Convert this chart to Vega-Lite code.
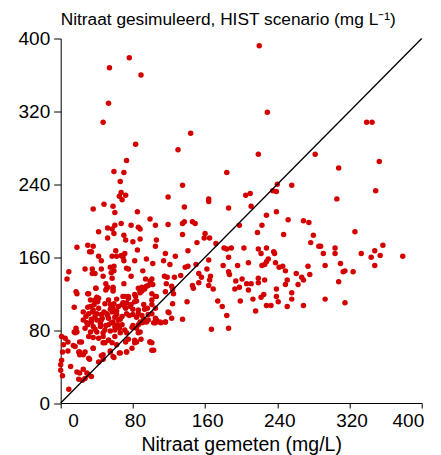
{
  "$schema": "https://vega.github.io/schema/vega-lite/v6.json",
  "width": 361,
  "height": 364.5,
  "autosize": {"type": "none"},
  "padding": {"left": 60.7, "top": 38.5, "right": 19.3, "bottom": 52},
  "background": "white",
  "config": {
    "view": {"stroke": null},
    "font": "Liberation Sans",
    "axis": {"grid": false, "domainColor": "black", "tickColor": "black", "labelColor": "black", "titleColor": "black", "labelFont": "Liberation Sans", "titleFont": "Liberation Sans", "domainWidth": 1, "tickWidth": 1}
  },
  "title": {"text": "Nitraat gesimuleerd, HIST scenario (mg L⁻¹)", "anchor": "start", "frame": "group", "fontSize": 17.3, "fontWeight": "normal", "font": "Liberation Sans", "color": "black", "offset": 1},
  "datasets": {
    "pts": [
      {"x":76,"y":379},{"x":54,"y":368},{"x":89,"y":360},{"x":53,"y":329},{"x":47,"y":308},{"x":144,"y":296},{"x":83,"y":284},{"x":130,"y":278},{"x":73,"y":266},{"x":59,"y":254},{"x":70,"y":253},{"x":184,"y":253},
      {"x":220,"y":392},{"x":229,"y":319},{"x":219,"y":273},{"x":282,"y":273},{"x":339,"y":308},{"x":345,"y":308},{"x":308,"y":258},{"x":353,"y":265},
      {"x":66,"y":243},{"x":135,"y":239},{"x":67,"y":231},{"x":72,"y":228},{"x":65,"y":227},{"x":68,"y":223},{"x":119,"y":226},{"x":164,"y":224},{"x":164,"y":221},{"x":48,"y":218},{"x":58,"y":216},{"x":36,"y":213},{"x":137,"y":215},{"x":186,"y":214},{"x":60,"y":209},{"x":85,"y":210},{"x":99,"y":202},{"x":42,"y":188},{"x":52,"y":192},{"x":57,"y":191},{"x":60,"y":195},{"x":59,"y":186},{"x":67,"y":197},{"x":78,"y":195},{"x":86,"y":193},{"x":88,"y":191},{"x":105,"y":195},{"x":119,"y":196},{"x":135,"y":197},{"x":137,"y":199},{"x":146,"y":199},{"x":149,"y":197},{"x":135,"y":185},{"x":160,"y":186},{"x":159,"y":181},{"x":165,"y":181},{"x":172,"y":175},{"x":151,"y":176},{"x":52,"y":181},{"x":70,"y":184},{"x":72,"y":179},{"x":80,"y":177},{"x":88,"y":180},{"x":106,"y":179},{"x":105,"y":172},{"x":18,"y":171},{"x":30,"y":173},{"x":36,"y":172},{"x":32,"y":166},{"x":34,"y":166},{"x":61,"y":167},{"x":67,"y":162},{"x":71,"y":164},{"x":57,"y":161},{"x":62,"y":161},{"x":69,"y":160},{"x":70,"y":156},{"x":42,"y":161},{"x":45,"y":156},{"x":85,"y":168},{"x":116,"y":164},{"x":127,"y":161},{"x":141,"y":167},{"x":82,"y":156},{"x":95,"y":158},{"x":102,"y":153},{"x":114,"y":156},{"x":121,"y":152},{"x":9,"y":144},{"x":27,"y":147},{"x":35,"y":147},{"x":35,"y":142},{"x":38,"y":142},{"x":45,"y":147},{"x":55,"y":149},{"x":59,"y":150},{"x":59,"y":145},{"x":56,"y":143},{"x":73,"y":148},{"x":75,"y":147},{"x":91,"y":145},{"x":7,"y":136},{"x":47,"y":139},{"x":57,"y":137},{"x":78,"y":139},{"x":94,"y":136},{"x":99,"y":134},{"x":101,"y":136},{"x":115,"y":139},{"x":118,"y":138},{"x":126,"y":138},{"x":133,"y":140},{"x":138,"y":149},{"x":141,"y":150},{"x":150,"y":152},{"x":164,"y":157},{"x":162,"y":147},{"x":153,"y":142},{"x":156,"y":138},{"x":166,"y":139},{"x":165,"y":135},{"x":181,"y":170},{"x":184,"y":169},{"x":189,"y":170},{"x":186,"y":160},{"x":180,"y":151},{"x":186,"y":144},{"x":187,"y":141},{"x":196,"y":151},{"x":194,"y":134},{"x":198,"y":127},{"x":50,"y":131},{"x":52,"y":127},{"x":58,"y":127},{"x":39,"y":126},{"x":70,"y":131},{"x":86,"y":126},{"x":90,"y":127},{"x":93,"y":125},{"x":97,"y":129},{"x":102,"y":130},{"x":117,"y":131},{"x":123,"y":128},{"x":124,"y":125},{"x":146,"y":129},{"x":147,"y":126},{"x":153,"y":132},{"x":164,"y":129},{"x":169,"y":125},
      {"x":256,"y":239},{"x":240,"y":240},{"x":235,"y":233},{"x":239,"y":232},{"x":205,"y":228},{"x":210,"y":230},{"x":211,"y":216},{"x":239,"y":210},{"x":228,"y":206},{"x":198,"y":195},{"x":252,"y":201},{"x":223,"y":195},{"x":218,"y":187},{"x":247,"y":185},{"x":269,"y":200},{"x":275,"y":198},{"x":280,"y":184},{"x":277,"y":176},{"x":286,"y":172},{"x":288,"y":172},{"x":291,"y":164},{"x":304,"y":170},{"x":304,"y":164},{"x":306,"y":224},{"x":349,"y":233},{"x":326,"y":188},{"x":357,"y":173},{"x":348,"y":167},{"x":354,"y":162},{"x":344,"y":160},{"x":333,"y":164},{"x":379,"y":161},{"x":348,"y":151},{"x":310,"y":153},{"x":315,"y":145},{"x":313,"y":144},{"x":324,"y":144},{"x":293,"y":151},{"x":308,"y":133},{"x":293,"y":114},{"x":315,"y":110},{"x":203,"y":170},{"x":219,"y":169},{"x":222,"y":164},{"x":228,"y":170},{"x":236,"y":166},{"x":237,"y":164},{"x":208,"y":154},{"x":223,"y":151},{"x":226,"y":152},{"x":228,"y":155},{"x":230,"y":158},{"x":238,"y":154},{"x":242,"y":149},{"x":246,"y":150},{"x":249,"y":145},{"x":261,"y":142},{"x":274,"y":150},{"x":276,"y":141},{"x":267,"y":138},{"x":269,"y":135},{"x":251,"y":135},{"x":249,"y":130},{"x":263,"y":130},{"x":201,"y":136},{"x":206,"y":131},{"x":211,"y":131},{"x":219,"y":137},{"x":219,"y":132},{"x":226,"y":135},{"x":193,"y":125},{"x":208,"y":124},{"x":199,"y":112},{"x":213,"y":114},{"x":222,"y":116},{"x":225,"y":119},{"x":239,"y":125},{"x":239,"y":117},{"x":241,"y":111},{"x":228,"y":107},{"x":233,"y":107},{"x":256,"y":121},{"x":256,"y":114},{"x":251,"y":106},{"x":269,"y":107},{"x":216,"y":101},
      {"x":18,"y":120},{"x":30,"y":120},{"x":40,"y":116},{"x":50,"y":124},{"x":58,"y":123},{"x":71,"y":117},{"x":75,"y":117},{"x":83,"y":117},{"x":88,"y":121},{"x":90,"y":123},{"x":101,"y":120},{"x":105,"y":117},{"x":116,"y":122},{"x":125,"y":120},{"x":53,"y":113},{"x":62,"y":114},{"x":69,"y":110},{"x":73,"y":110},{"x":82,"y":111},{"x":15,"y":105},{"x":33,"y":106},{"x":37,"y":108},{"x":41,"y":111},{"x":49,"y":109},{"x":55,"y":108},{"x":59,"y":109},{"x":64,"y":106},{"x":68,"y":108},{"x":71,"y":106},{"x":77,"y":106},{"x":80,"y":103},{"x":86,"y":102},{"x":93,"y":103},{"x":101,"y":108},{"x":105,"y":104},{"x":124,"y":109},{"x":140,"y":111},{"x":179,"y":106},{"x":120,"y":99},{"x":135,"y":92},{"x":184,"y":96},{"x":167,"y":81},{"x":186,"y":82},{"x":174,"y":112},{"x":25,"y":100},{"x":31,"y":98},{"x":36,"y":102},{"x":40,"y":98},{"x":45,"y":97},{"x":51,"y":98},{"x":57,"y":100},{"x":62,"y":97},{"x":68,"y":95},{"x":73,"y":98},{"x":80,"y":97},{"x":86,"y":98},{"x":90,"y":96},{"x":97,"y":97},{"x":101,"y":98},{"x":105,"y":93},{"x":111,"y":88},{"x":116,"y":89},{"x":95,"y":89},{"x":103,"y":88},{"x":88,"y":89},{"x":25,"y":91},{"x":29,"y":88},{"x":34,"y":89},{"x":40,"y":91},{"x":45,"y":91},{"x":53,"y":93},{"x":58,"y":89},{"x":64,"y":91},{"x":53,"y":86},{"x":60,"y":84},{"x":68,"y":86},{"x":71,"y":80},{"x":79,"y":83},{"x":84,"y":82},{"x":86,"y":77},{"x":90,"y":88},{"x":80,"y":85},{"x":27,"y":82},{"x":33,"y":78},{"x":38,"y":81},{"x":44,"y":84},{"x":49,"y":80},{"x":31,"y":73},{"x":36,"y":72},{"x":42,"y":71},{"x":47,"y":73},{"x":53,"y":69},{"x":60,"y":73},{"x":66,"y":77},{"x":57,"y":66},{"x":49,"y":66},{"x":62,"y":64},{"x":73,"y":77},{"x":75,"y":70},{"x":82,"y":69},{"x":82,"y":66},{"x":89,"y":70},{"x":99,"y":67},{"x":101,"y":66},{"x":103,"y":58},{"x":1,"y":73},{"x":5,"y":71},{"x":8,"y":67},{"x":3,"y":64},{"x":2,"y":56},{"x":8,"y":57},{"x":14,"y":63},{"x":18,"y":78},{"x":16,"y":77},{"x":23,"y":67},{"x":21,"y":56},{"x":27,"y":56},{"x":21,"y":53},{"x":36,"y":60},{"x":45,"y":52},{"x":42,"y":45},{"x":47,"y":48},{"x":55,"y":57},{"x":59,"y":50},{"x":65,"y":55},{"x":73,"y":56},{"x":79,"y":60},{"x":72,"y":67},{"x":32,"y":48},{"x":1,"y":47},{"x":0,"y":42},{"x":0,"y":36},{"x":2,"y":30},{"x":11,"y":40},{"x":18,"y":34},{"x":21,"y":33},{"x":25,"y":37},{"x":29,"y":33},{"x":31,"y":31},{"x":34,"y":29},{"x":20,"y":26},{"x":24,"y":25},{"x":27,"y":27},{"x":9,"y":15},
      {"x":17,"y":122},{"x":31,"y":120},{"x":39,"y":126},{"x":51,"y":126},{"x":58,"y":125},{"x":33,"y":113},{"x":38,"y":113},{"x":42,"y":115},{"x":69,"y":117},{"x":75,"y":115},{"x":82,"y":119},{"x":88,"y":122},{"x":95,"y":128},{"x":101,"y":113},{"x":106,"y":117},{"x":119,"y":100},{"x":105,"y":88},{"x":110,"y":89},{"x":116,"y":89},{"x":123,"y":93},{"x":15,"y":78},{"x":17,"y":82},{"x":21,"y":67},{"x":16,"y":62},{"x":20,"y":56},{"x":25,"y":53},{"x":31,"y":49},{"x":36,"y":60},{"x":47,"y":66},{"x":53,"y":69},{"x":47,"y":53},{"x":55,"y":56},{"x":58,"y":51},{"x":66,"y":55},{"x":73,"y":56},{"x":84,"y":67},{"x":88,"y":78},{"x":99,"y":67},{"x":101,"y":58},{"x":86,"y":86},{"x":92,"y":89},{"x":97,"y":91},{"x":106,"y":91},
      {"x":30,"y":105},{"x":35,"y":100},{"x":42,"y":104},{"x":48,"y":100},{"x":55,"y":103},{"x":62,"y":101},{"x":28,"y":95},{"x":38,"y":95},{"x":46,"y":93},{"x":52,"y":96},{"x":60,"y":94},{"x":66,"y":92},{"x":30,"y":86},{"x":36,"y":84},{"x":44,"y":87},{"x":50,"y":85},{"x":56,"y":88},{"x":63,"y":86},{"x":40,"y":78},{"x":47,"y":77},{"x":55,"y":79},{"x":60,"y":80},{"x":65,"y":82},{"x":34,"y":92},{"x":58,"y":104},{"x":72,"y":104},{"x":78,"y":108},{"x":84,"y":112},{"x":92,"y":108},{"x":96,"y":104},{"x":76,"y":96},{"x":84,"y":94},{"x":92,"y":92}
    ]
  },
  "layer": [
    {
      "data": {"name": "pts"},
      "mark": {"type": "circle", "color": "#D40000", "opacity": 1, "size": 30},
      "encoding": {
        "x": {"field": "x", "type": "quantitative", "scale": {"domain": [0, 400], "nice": false, "zero": false},
          "axis": {"values": [0, 80, 160, 240, 320, 400], "title": "Nitraat gemeten (mg/L)", "titleFontSize": 19.5, "titleFontWeight": "normal", "titlePadding": 5, "labelFontSize": 19, "tickSize": 5, "labelPadding": 3, "labelOffset": {"condition": {"test": "datum.value === 0", "value": 7}, "value": 2}}},
        "y": {"field": "y", "type": "quantitative", "scale": {"domain": [0, 400], "nice": false, "zero": false},
          "axis": {"values": [0, 80, 160, 240, 320, 400], "title": null, "labelFontSize": 19, "tickSize": 7, "labelPadding": 4}}
      }
    },
    {
      "data": {"values": [{}]},
      "mark": {"type": "rule", "color": "black", "strokeWidth": 1.3},
      "encoding": {
        "x": {"datum": 0, "type": "quantitative"},
        "y": {"datum": 0, "type": "quantitative"},
        "x2": {"datum": 400},
        "y2": {"datum": 400}
      }
    }
  ]
}
